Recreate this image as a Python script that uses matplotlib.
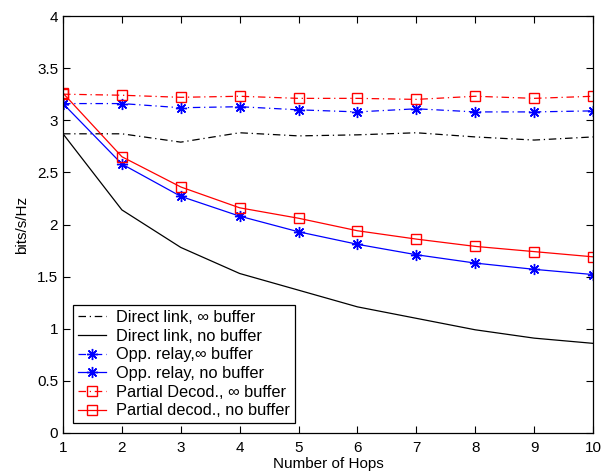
import matplotlib
matplotlib.use("Agg")
import matplotlib.pyplot as plt

plt.rcParams['font.family'] = ['Liberation Sans', 'DejaVu Sans']

hops = [1, 2, 3, 4, 5, 6, 7, 8, 9, 10]
direct_inf = [2.87, 2.87, 2.79, 2.88, 2.85, 2.86, 2.88, 2.84, 2.81, 2.84]
direct_nobuf = [2.87, 2.14, 1.78, 1.53, 1.37, 1.21, 1.10, 0.99, 0.91, 0.86]
opp_inf = [3.16, 3.16, 3.12, 3.13, 3.10, 3.08, 3.11, 3.08, 3.08, 3.09]
opp_nobuf = [3.16, 2.58, 2.27, 2.08, 1.93, 1.81, 1.71, 1.63, 1.57, 1.52]
pd_inf = [3.25, 3.24, 3.22, 3.23, 3.21, 3.21, 3.20, 3.23, 3.21, 3.23]
pd_nobuf = [3.26, 2.65, 2.36, 2.16, 2.06, 1.94, 1.86, 1.79, 1.74, 1.69]

labels = ['Direct link, \u221e buffer', 'Direct link, no buffer',
          'Opp. relay,\u221e buffer', 'Opp. relay, no buffer',
          'Partial Decod., \u221e buffer', 'Partial decod., no buffer']

fig = plt.figure(figsize=(6.14, 4.72), dpi=100)
ax = fig.add_axes([63/614, 39/472, 530/614, 417/472])

lw = 0.9
dashdot = (0, (6, 3, 1, 3))
ast = (8, 2, 0)
ax.plot(hops, direct_inf, color='k', lw=lw, linestyle=dashdot, label=labels[0])
ax.plot(hops, direct_nobuf, color='k', lw=lw, linestyle='-', label=labels[1])
ax.plot(hops, opp_inf, color='b', lw=lw, linestyle=dashdot, marker=ast,
        markersize=8, markeredgewidth=1.0, label=labels[2])
ax.plot(hops, opp_nobuf, color='b', lw=lw, linestyle='-', marker=ast,
        markersize=8, markeredgewidth=1.0, label=labels[3])
ax.plot(hops, pd_inf, color='r', lw=lw, linestyle=dashdot, marker='s',
        markersize=7, markerfacecolor='none', markeredgewidth=1.0, label=labels[4])
ax.plot(hops, pd_nobuf, color='r', lw=lw, linestyle='-', marker='s',
        markersize=7, markerfacecolor='none', markeredgewidth=1.0, label=labels[5])

ax.set_xlim(1, 10)
ax.set_ylim(0, 4)
ax.set_xticks(hops)
ax.set_yticks([0, 0.5, 1, 1.5, 2, 2.5, 3, 3.5, 4])
ax.set_yticklabels(['0', '0.5', '1', '1.5', '2', '2.5', '3', '3.5', '4'])
ax.tick_params(direction='in', top=True, right=True, labelsize=11, length=5, width=0.8)
ax.tick_params(axis='x', pad=6)
ax.tick_params(axis='y', pad=3.5)
for s in ax.spines.values():
    s.set_linewidth(0.9)

ax.set_xlabel('Number of Hops', fontsize=11, labelpad=1.5)
ax.set_ylabel('bits/s/Hz', fontsize=11, labelpad=6)

leg = ax.legend(loc='lower left', fontsize=11.8, frameon=True, fancybox=False,
                edgecolor='k', handlelength=1.75, borderpad=0.3, labelspacing=0.22,
                handletextpad=0.6, borderaxespad=0.6, framealpha=1)
leg.get_frame().set_linewidth(0.9)

fig.savefig('out.png', dpi=100)
